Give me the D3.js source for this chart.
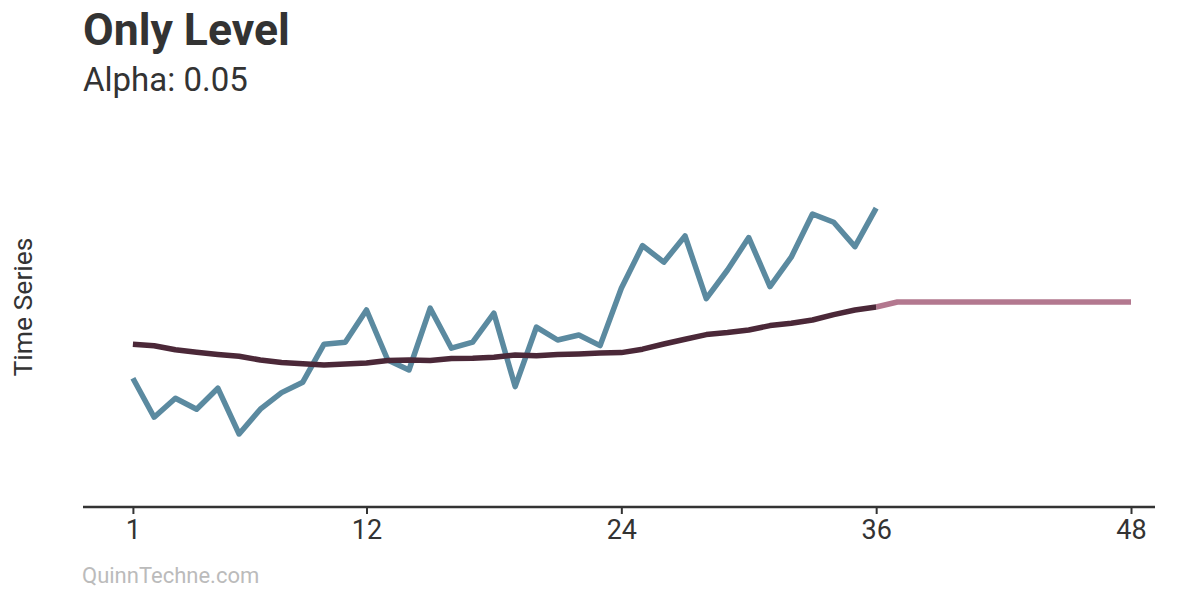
<!DOCTYPE html>
<html>
<head>
<meta charset="utf-8">
<script src="https://cdn.jsdelivr.net/npm/d3@7"></script>
<style>
  html, body { margin: 0; padding: 0; background: #ffffff; }
  svg { display: block; font-family: Roboto, "Noto Sans", sans-serif; }
</style>
</head>
<body>
<svg id="chart" width="1195" height="594"></svg>
<script>
// ---- data ----
const titleText = "Only Level";
const subtitleText = "Alpha: 0.05";
const yLabel = "Time Series";
const caption = "QuinnTechne.com";
const xTicks = [1, 12, 24, 36, 48];

const periods = d3.range(1, 37);          // observed periods 1..36
const observed = [64.4, 44.9, 54.4, 48.9, 59.4, 36.5, 48.9, 57.2, 62.4, 81.4,
                  82.4, 98.5, 73.5, 68.5, 99.4, 79.4, 82.4, 96.9, 60.2, 89.9,
                  83.5, 86.0, 80.7, 109.4, 130.7, 122.4, 135.5, 104.2, 118.5, 134.7,
                  110.2, 124.9, 146.5, 142.4, 130.2, 149.4];
const level = [81.4, 80.6, 78.6, 77.4, 76.3, 75.4, 73.5, 72.3, 71.6, 71.0,
               71.5, 72.0, 73.3, 73.5, 73.2, 74.2, 74.4, 74.9, 76.0, 75.6,
               76.2, 76.5, 77.0, 77.2, 78.9, 81.5, 83.9, 86.2, 87.2, 88.5,
               90.7, 91.9, 93.5, 96.2, 98.5, 100.0];
const forecastPeriods = d3.range(36, 49); // 36..48
const forecast = [100.0, 102.5, 102.5, 102.5, 102.5, 102.5, 102.5,
                  102.5, 102.5, 102.5, 102.5, 102.5, 102.5];

// ---- chart ----
const svg = d3.select("#chart");
const x = d3.scaleLinear().domain([-1.35, 49.13]).range([83, 1155]);
const y = d3.scaleLinear().domain([0, 200]).range([507, 107]);

const colObs = "#5b8aa0", colLevel = "#4b2838", colFc = "#b3788f", colText = "#333333";

// title
svg.append("text").attr("x", 83).attr("y", 45)
  .attr("font-size", 44.5).attr("font-weight", 700).attr("fill", colText).text(titleText);
svg.append("text").attr("x", 83).attr("y", 91)
  .attr("font-size", 33).attr("fill", colText).text(subtitleText);

// y label
svg.append("text")
  .attr("transform", "translate(32,307) rotate(-90)")
  .attr("text-anchor", "middle").attr("font-size", 26.5).attr("fill", colText).text(yLabel);

// caption
svg.append("text").attr("x", 82).attr("y", 583)
  .attr("font-size", 22).attr("fill", "#bbbbbb").text(caption);

// x axis
const axis = svg.append("g").attr("transform", "translate(0,507)")
  .call(d3.axisBottom(x).tickValues(xTicks).tickSize(7).tickPadding(6).tickFormat(d3.format("d")));
axis.select(".domain").attr("stroke", colText).attr("stroke-width", 2.5).attr("d", `M${x.range()[0]},0H${x.range()[1]}`);
axis.selectAll(".tick line").attr("stroke", colText).attr("stroke-width", 2);
axis.selectAll(".tick text").attr("font-size", 27).attr("fill", colText).attr("font-family", "Roboto");

// lines
const line = d3.line().x(d => x(d[0])).y(d => y(d[1]));
svg.append("path").datum(periods.map((p, i) => [p, observed[i]]))
  .attr("d", line).attr("fill", "none").attr("stroke", colObs)
  .attr("stroke-width", 5.5).attr("stroke-linejoin", "round");
svg.append("path").datum(forecastPeriods.map((p, i) => [p, forecast[i]]))
  .attr("d", line).attr("fill", "none").attr("stroke", colFc)
  .attr("stroke-width", 5.5).attr("stroke-linejoin", "round");
svg.append("path").datum(periods.map((p, i) => [p, level[i]]))
  .attr("d", line).attr("fill", "none").attr("stroke", colLevel)
  .attr("stroke-width", 5.5).attr("stroke-linejoin", "round");
</script>
</body>
</html>
